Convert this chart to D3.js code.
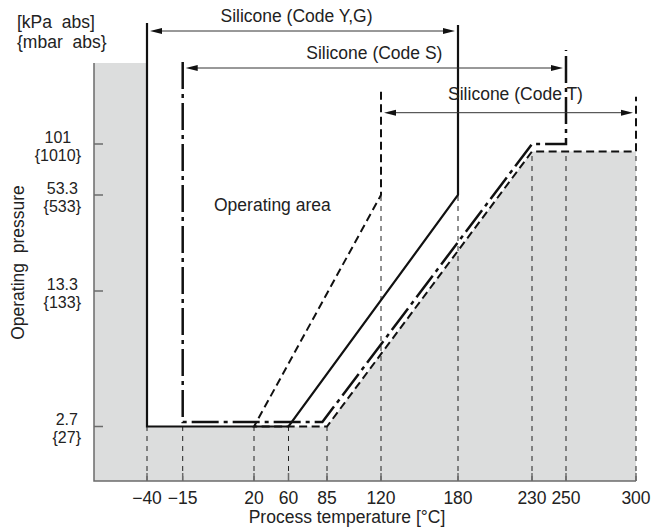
<!DOCTYPE html>
<html lang="en">
<head>
  <meta charset="UTF-8">
  <title>Operating pressure vs process temperature</title>
  <style>
    body { margin: 0; background: #fff; }
    svg text {
      font-family: "Liberation Sans", Arial, sans-serif;
      font-size: 17.5px;
      fill: #222;
      white-space: pre;
    }
    svg text.ytick { font-size: 16px; }
    .axis-line { stroke: #6b6b6b; stroke-width: 1.5; fill: none; }
    .guide { stroke: #222; stroke-width: 1; stroke-dasharray: 5,5; fill: none; }
    .dim { stroke: #333; stroke-width: 1; }
  </style>
</head>
<body>
  <svg id="chart" width="656" height="531"></svg>
  <script src="https://d3js.org/d3.v7.min.js"></script>
  <script>
    // temperature ticks [°C] and pressure ticks [kPa abs]
    const tempTicks = [-40, -15, 20, 60, 85, 120, 180, 230, 250, 300];
    const tempLabels = ['\u221240', '\u221215', '20', '60', '85', '120', '180', '230', '250', '300'];
    const pressTicks = [2.7, 13.3, 53.3, 101];
    const kpaLabels = ['2.7', '13.3', '53.3', '101'];
    const mbarLabels = ['{27}', '{133}', '{533}', '{1010}'];
    // how high the dashed guide above each temperature tick reaches [kPa]
    const guideTop = [2.7, 2.7, 2.7, 2.7, 2.7, 53.3, 53.3, 94, 94, 94];

    // boundary of each fill fluid: [temperature, pressure]
    const codeYG = [[-40, 2.7], [60, 2.7], [180, 53.3]];
    const codeS = [[-15, 3.05], [82, 3.05], [230, 101], [250, 101]];
    const codeT = [[120, 53.3], [20, 2.7], [85, 2.7], [230, 94], [300, 94]];
    const seriesNames = ['Silicone (Code Y,G)', 'Silicone (Code S)', 'Silicone (Code T)'];

    // layout: the axes are schematic, so the scales are piecewise
    const plot = {left: 94, top: 63, bottom: 481};
    const xStops = [147, 182.7, 254, 288.5, 327, 381, 458, 532, 566, 636];
    const yStops = [426.5, 291, 195, 144];
    const x = d3.scaleLinear().domain(tempTicks).range(xStops);
    const y = d3.scaleLinear().domain(pressTicks).range(yStops);

    const svg = d3.select('#chart');

    // grey area outside the operating range
    const edge = [codeYG[0], codeT[2], codeT[3], codeT[4]];
    const grey = [[plot.left, plot.top], [x(edge[0][0]), plot.top]]
      .concat(edge.map(d => [x(d[0]), y(d[1])]))
      .concat([[x(edge[3][0]), plot.bottom], [plot.left, plot.bottom]]);
    svg.append('path')
      .attr('d', d3.line()(grey) + 'Z')
      .attr('fill', '#dcdddd');

    // dashed guides up from each temperature tick
    svg.append('g').selectAll('line')
      .data(tempTicks)
      .join('line')
        .attr('class', 'guide')
        .attr('x1', d => x(d)).attr('x2', d => x(d))
        .attr('y1', plot.bottom)
        .attr('y2', (d, i) => y(guideTop[i]));

    // axes
    svg.append('path').attr('class', 'axis-line')
      .attr('d', `M${plot.left},${plot.top}V${plot.bottom}H${x(300)}`);
    svg.append('g').selectAll('line')
      .data(pressTicks)
      .join('line')
        .attr('class', 'axis-line')
        .attr('x1', plot.left).attr('x2', plot.left + 9)
        .attr('y1', d => y(d)).attr('y2', d => y(d));
    svg.append('g').selectAll('line')
      .data(tempTicks)
      .join('line')
        .attr('class', 'axis-line')
        .attr('x1', d => x(d)).attr('x2', d => x(d))
        .attr('y1', plot.bottom - 8).attr('y2', plot.bottom);

    svg.append('g').selectAll('text')
      .data(tempTicks)
      .join('text')
        .attr('x', d => x(d))
        .attr('y', 504)
        .attr('text-anchor', 'middle')
        .text((d, i) => tempLabels[i]);

    // y tick labels: two lines centred on each other, block right aligned
    pressTicks.forEach((p, i) => {
      const t = svg.append('text').attr('class', 'ytick').attr('text-anchor', 'middle');
      const a = t.append('tspan').attr('y', y(p) - 1.5).text(kpaLabels[i]);
      const b = t.append('tspan').attr('y', y(p) + 16.5).text(mbarLabels[i]);
      const w = Math.max(a.node().getComputedTextLength(), b.node().getComputedTextLength());
      t.selectAll('tspan').attr('x', 81 - w / 2);
    });

    // boundary lines with their range arrows
    const styles = [
      {data: codeYG, width: 2.2, dash: null, arrowY: 31, ext: [8, 6], labelDx: -6, labelDy: -9},
      {data: codeS, width: 2.5, dash: '27,5,4,5', arrowY: 68, ext: [6, 18], labelDx: 0, labelDy: -9},
      {data: codeT, width: 2, dash: '8,4.5', arrowY: 112.7, ext: [21, 16], labelDx: 7, labelDy: -12.5}
    ];

    styles.forEach((s, i) => {
      const pts = s.data.map(d => [x(d[0]), y(d[1])]);
      const first = pts[0], last = pts[pts.length - 1];
      const path = [[first[0], s.arrowY - s.ext[0]]].concat(pts, [[last[0], s.arrowY - s.ext[1]]]);
      svg.append('path')
        .attr('d', d3.line()(path))
        .attr('fill', 'none')
        .attr('stroke', '#111')
        .attr('stroke-width', s.width)
        .attr('stroke-dasharray', s.dash);

      const x0 = Math.min(first[0], last[0]) + 3;
      const x1 = Math.max(first[0], last[0]) - 3;
      svg.append('line').attr('class', 'dim')
        .attr('x1', x0 + 6).attr('x2', x1 - 6)
        .attr('y1', s.arrowY).attr('y2', s.arrowY);
      svg.append('path')
        .attr('d', `M${x0},${s.arrowY}l12,-3v6Z M${x1},${s.arrowY}l-12,-3v6Z`)
        .attr('fill', '#111');
      svg.append('text')
        .attr('x', (x0 + x1) / 2 + s.labelDx)
        .attr('y', s.arrowY + s.labelDy)
        .attr('text-anchor', 'middle')
        .text(seriesNames[i]);
    });

    // titles
    svg.append('text').attr('x', 17).attr('y', 28).text('[kPa  abs]');
    svg.append('text').attr('x', 17).attr('y', 48).text('{mbar  abs}');
    svg.append('text')
      .attr('transform', 'translate(23.5,262.5) rotate(-90)')
      .attr('text-anchor', 'middle')
      .text('Operating  pressure');
    svg.append('text').attr('x', 347).attr('y', 523)
      .attr('text-anchor', 'middle')
      .text('Process temperature [\u00B0C]');
    svg.append('text').attr('x', 214).attr('y', 211).text('Operating area');
  </script>
</body>
</html>
